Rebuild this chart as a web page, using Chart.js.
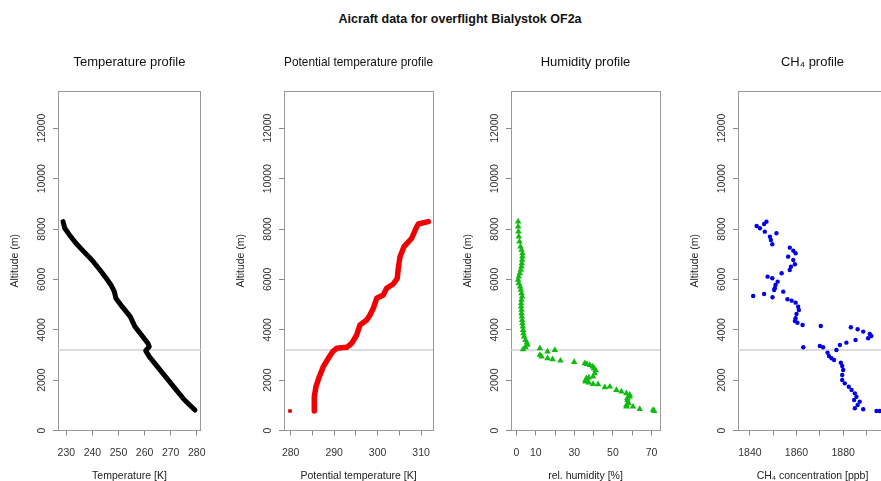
<!DOCTYPE html>
<html><head><meta charset="utf-8">
<script src="https://cdn.jsdelivr.net/npm/chart.js@4.4.0/dist/chart.umd.min.js"></script>
<style>
html,body{margin:0;padding:0;background:#fff;overflow:hidden;width:881px;height:481px;position:relative;}
#main{position:absolute;left:0;width:920px;top:12px;text-align:center;font:bold 12.5px "Liberation Sans",Arial,sans-serif;color:#111;line-height:14px;}
canvas{position:absolute;top:0;}
</style></head><body>
<div id="main">Aicraft data for overflight Bialystok OF2a</div>
<canvas id="c1" width="217" height="490" style="left:0px"></canvas>
<canvas id="c2" width="217" height="490" style="left:226px"></canvas>
<canvas id="c3" width="217" height="490" style="left:453px"></canvas>
<canvas id="c4" width="217" height="490" style="left:680px"></canvas>
<script>
// ---------------- data ----------------
const altTicks = [0, 2000, 4000, 6000, 8000, 10000, 12000];
const blhAlt = 3200; // horizontal reference line (m)

const tempAlt = [815, 1211, 1675, 2137, 2535, 2932, 3170, 3330, 3462, 3793, 4123, 4520, 4917, 5248, 5513, 5779, 6043, 6374, 6771, 7102, 7434, 7765, 8030, 8292];
const tempK   = [279.3, 275.3, 271.65, 268.0, 264.9, 261.8, 260.4, 261.8, 261.25, 258.8, 256.3, 254.5, 251.4, 249.0, 248.4, 247.1, 245.3, 242.9, 239.8, 236.7, 233.7, 231.2, 229.4, 228.75];
const tempTicks  = [230, 240, 250, 260, 270, 280];
const tempLabels = [230, 240, 250, 260, 270, 280];

const thetaFirstAlt = [774];
const thetaFirstK   = [279.84];
const thetaAlt = [774, 1342, 1740, 2137, 2535, 2866, 3130, 3264, 3304, 3462, 3793, 4190, 4388, 4587, 4852, 5250, 5382, 5647, 5818, 6044, 6441, 6902, 7299, 7633, 8030, 8201, 8292];
const thetaK   = [285.43, 285.43, 285.82, 286.58, 287.5, 288.65, 289.67, 290.59, 292.89, 294.04, 295.19, 295.95, 297.49, 298.25, 299.01, 299.79, 301.31, 302.09, 303.61, 304.53, 304.76, 305.15, 306.08, 307.85, 308.84, 309.37, 311.67];
const thetaTicks  = [280, 285, 290, 295, 300, 305, 310];
const thetaLabels = [280, 290, 300, 310];

const rhAlt = [8294, 8095, 7896, 7698, 7499, 7301, 7168, 7036, 6904, 6771, 6639, 6506, 6374, 6242, 6109, 5977, 5845, 5712, 5580, 5448, 5315, 5183, 5050, 4918, 4786, 4653, 4521, 4388, 4256, 4124, 3991, 3859, 3726, 3594, 3488, 3396, 3303, 3224,
  3264, 3130, 3197, 2999, 2932, 2866, 2826, 2772, 2720, 2667, 2640, 2601, 2540, 2469, 2400, 2270, 2137, 2100, 2071, 1990, 1939, 1900, 1847, 1834, 1715, 1740, 1608, 1542, 1475, 1420, 1342, 1290, 1211, 1080, 1010, 945, 945, 854, 815, 775];
const rhPct = [0.85, 0.85, 1.02, 1.19, 1.54, 2.06, 2.58, 3.09, 3.09, 2.92, 2.75, 2.58, 2.23, 1.71, 1.19, 0.85, 1.19, 1.88, 2.23, 2.58, 2.92, 2.58, 2.4, 2.4, 2.58, 2.58, 2.75, 2.92, 3.09, 3.27, 3.44, 3.61, 3.96, 4.65, 5.34, 5.69, 4.65, 3.44,
  12.1, 16.1, 19.9, 12.1, 13.0, 16.1, 18.7, 22.8, 29.9, 35.4, 36.5, 38.0, 39.5, 40.2, 41.0, 40.6, 39.7, 37.5, 36.3, 35.8, 35.8, 37.5, 39.7, 42.3, 45.8, 48.4, 51.8, 54.4, 57.0, 58.7, 58.7, 57.5, 57.5, 58.1, 57.0, 57.0, 60.4, 63.9, 70.8, 71.4];
const rhTicks  = [0, 10, 20, 30, 40, 50, 60, 70];
const rhLabels = [0, 10, 30, 50, 70];

const ch4Alt = [8292, 8201, 8122, 8030, 7896, 7830, 7697, 7565, 7393, 7260, 7141, 7036, 6902, 6771, 6599, 6505, 6374, 6241, 6109, 6044, 5911, 5779, 5647, 5580, 5513, 5421, 5342, 5289, 5210, 5155, 5077, 4918, 4786, 4627, 4455, 4349, 4281, 4190, 4150, 4098, 4018, 3926, 3832, 3753, 3661, 3594, 3488, 3395, 3304, 3356, 3304, 3197, 3091, 2958, 2866, 2800, 2693, 2561, 2403, 2204, 2005, 1873, 1740, 1608, 1475, 1342, 1211, 1145, 1013, 882, 842, 774, 774];
const ch4Ppb = [1847.1, 1846.1, 1842.9, 1844.3, 1846.4, 1851.4, 1848.6, 1849.0, 1849.6, 1857.1, 1858.6, 1859.6, 1856.4, 1858.6, 1859.3, 1857.6, 1857.1, 1853.6, 1847.6, 1849.6, 1851.9, 1851.0, 1850.7, 1850.4, 1854.3, 1846.1, 1841.4, 1849.7, 1856.1, 1857.9, 1859.6, 1860.7, 1861.0, 1860.0, 1859.6, 1859.3, 1860.4, 1862.6, 1870.4, 1883.3, 1886.2, 1888.6, 1891.4, 1892.1, 1890.7, 1885.3, 1881.4, 1878.6, 1862.9, 1870.0, 1871.4, 1877.1, 1873.3, 1873.9, 1875.0, 1876.1, 1879.0, 1879.6, 1880.0, 1879.6, 1879.6, 1880.7, 1882.4, 1883.6, 1885.0, 1885.7, 1884.7, 1887.1, 1886.2, 1885.0, 1888.6, 1894.3, 1895.7];
const ch4Ticks  = [1840, 1850, 1860, 1870, 1880, 1890];
const ch4Labels = [1840, 1860, 1880];

// ---------------- chart construction ----------------
const FONT = '"Liberation Sans", Arial, sans-serif';
const ALT_MAX = 13480;
const zip = (xs, ys) => xs.map((v, i) => ({x: v, y: ys[i]}));

function panel(id, cfg) {
  const axisGrid = {display: true, drawOnChartArea: false, drawTicks: true, tickLength: 5, color: '#8a8a8a', tickColor: '#8a8a8a', lineWidth: 1};
  const datasets = [
    {type: 'scatter', showLine: true, data: [{x: cfg.min, y: blhAlt}, {x: cfg.max, y: blhAlt}],
     borderColor: '#d0d0d0', borderWidth: 1.5, pointRadius: 0, order: 5}
  ];
  cfg.series.forEach(s => datasets.push(Object.assign({type: 'scatter', order: 1}, s)));
  new Chart(document.getElementById(id), {
    type: 'scatter',
    data: {datasets},
    options: {
      responsive: false, animation: false, events: [],
      layout: {padding: {left: 0, right: 10, top: 0, bottom: 0}},
      plugins: {
        legend: {display: false}, tooltip: {enabled: false},
        title: {display: true, fullSize: false, text: cfg.title, color: '#111',
                font: {family: FONT, size: 13, weight: 'normal', lineHeight: 1.2},
                padding: {top: 55, bottom: 20.4}}
      },
      scales: {
        x: {type: 'linear', position: 'bottom', min: cfg.min, max: cfg.max,
            afterBuildTicks: s => { s.ticks = cfg.ticks.map(v => ({value: v})); },
            afterFit: s => { s.height = 59.5; },
            ticks: {autoSkip: false, maxRotation: 0, padding: 11, color: '#333',
                    font: {family: FONT, size: 10.5},
                    callback: v => cfg.labels.includes(v) ? String(v) : ''},
            grid: axisGrid, border: {display: true, color: '#999', width: 1},
            title: {display: true, text: cfg.xTitle, color: '#222', font: {family: FONT, size: 10.5, lineHeight: 1.2},
                    padding: {top: 0, bottom: 8}}},
        y: {type: 'linear', position: 'left', min: 0, max: ALT_MAX,
            afterBuildTicks: s => { s.ticks = altTicks.map(v => ({value: v})); },
            afterFit: s => { s.width = 58; },
            ticks: {autoSkip: false, minRotation: 90, maxRotation: 90, crossAlign: 'center', padding: -3.5,
                    color: '#333', font: {family: FONT, size: 10.5},
                    callback: v => String(v)},
            grid: axisGrid, border: {display: true, color: '#999', width: 1},
            title: {display: true, text: 'Altitude (m)', color: '#222', font: {family: FONT, size: 10.5, lineHeight: 1.2},
                    padding: {top: 9, bottom: 0}}},
        x2: {type: 'linear', position: 'top', min: cfg.min, max: cfg.max,
             afterFit: s => { s.height = 0; },
             ticks: {display: false}, grid: {display: false}, border: {display: true, color: '#999', width: 1}},
        y2: {type: 'linear', position: 'right', min: 0, max: ALT_MAX,
             afterFit: s => { s.width = 0; },
             ticks: {display: false}, grid: {display: false}, border: {display: true, color: '#999', width: 1}}
      }
    }
  });
}

panel('c1', {
  title: 'Temperature profile', xTitle: 'Temperature [K]', min: 226.8, max: 281.6,
  ticks: tempTicks, labels: tempLabels,
  series: [{data: zip(tempK, tempAlt), showLine: true, borderColor: '#000', borderWidth: 5,
            borderCapStyle: 'round', borderJoinStyle: 'round', pointRadius: 0}]
});
panel('c2', {
  title: 'Potential temperature profile', xTitle: 'Potential temperature [K]', min: 278.46, max: 312.75,
  ticks: thetaTicks, labels: thetaLabels,
  series: [
    {data: zip(thetaK, thetaAlt), showLine: true, borderColor: '#f00000', borderWidth: 5.5,
     borderCapStyle: 'round', borderJoinStyle: 'round', pointRadius: 0},
    {data: zip(thetaFirstK, thetaFirstAlt), pointStyle: 'rect', pointRadius: 2.6, backgroundColor: '#e00000', borderWidth: 0}
  ]
});
panel('c3', {
  title: 'Humidity profile', xTitle: 'rel. humidity [%]', min: -2.85, max: 74.4,
  ticks: rhTicks, labels: rhLabels,
  series: [{data: zip(rhPct, rhAlt), pointStyle: 'triangle', pointRadius: 3.8,
            backgroundColor: '#10bb10', borderColor: '#10bb10', borderWidth: 0}]
});
panel('c4', {
  title: 'CH\u2084 profile', xTitle: 'CH\u2084 concentration [ppb]', min: 1834.9, max: 1898.8,
  ticks: ch4Ticks, labels: ch4Labels,
  series: [{data: zip(ch4Ppb, ch4Alt), pointStyle: 'circle', pointRadius: 2.2,
            backgroundColor: '#0000e6', borderWidth: 0}]
});
</script>
</body></html>
